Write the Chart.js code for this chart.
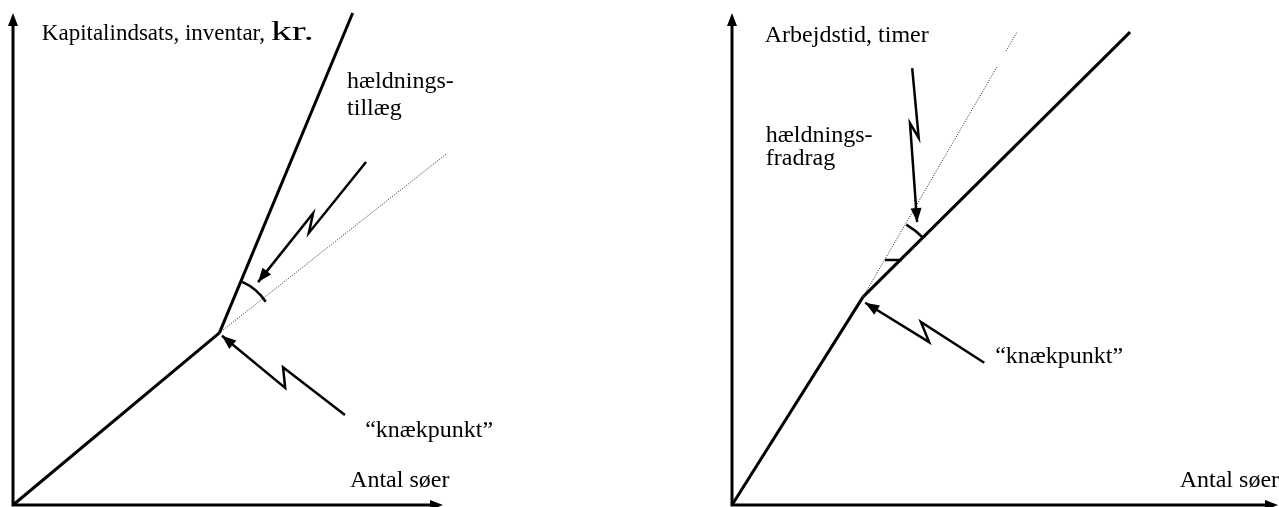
<!DOCTYPE html>
<html>
<head>
<meta charset="utf-8">
<script src="https://cdn.jsdelivr.net/npm/chart.js@4.4.1/dist/chart.umd.min.js"></script>
<style>
  html, body { margin: 0; padding: 0; background: #fff; }
  #wrap { position: relative; width: 1279px; height: 507px; overflow: hidden; }
  .box { position: absolute; top: 0; height: 507px; }
</style>
</head>
<body>
<div id="wrap">
  <div class="box" style="left:0;width:640px"><canvas id="kapital"></canvas></div>
  <div class="box" style="left:640px;width:639px"><canvas id="arbejde"></canvas></div>
</div>
<script>
const SERIF = '"Liberation Serif", "DejaVu Serif", "Times New Roman", serif';

// venstre figur: kapitalindsats (begge akser 0-100, skematisk)
const kapBasis = [{ x: 0, y: 0 }, { x: 48, y: 35 }];
const kapStejl = [{ x: 48, y: 35 }, { x: 79, y: 100 }];
const kapForlaengelse = [{ x: 48, y: 35 }, { x: 101, y: 71.5 }];
const kapPilVinkel = [{ x: 82.1, y: 69.7 }, { x: 68.8, y: 55.3 }, { x: 69.8, y: 59.3 }, { x: 57.0, y: 45.3 }];
const kapPilKnaek = [{ x: 77.2, y: 18.3 }, { x: 62.8, y: 28.0 }, { x: 63.3, y: 23.8 }, { x: 48.6, y: 34.4 }];
const kapBue = [{ x: 53.5, y: 45.7 }, { x: 58.4, y: 41.1 }];
const kapTekster = [
  { parts: [['Kapitalindsats, inventar, ', 23, 1], ['kr.', 28, 1.5]], x: 6.7, y: 94.5 },
  { parts: [['hældnings-', 24, 1]], x: 77.7, y: 84.8 },
  { parts: [['tillæg', 24, 1]], x: 77.7, y: 79.3 },
  { parts: [['\u201cknækpunkt\u201d', 24, 1]], x: 81.9, y: 13.8 },
  { parts: [['Antal søer', 24, 1]], x: 78.4, y: 3.7 },
];

// højre figur: arbejdstid
const arbBasis = [{ x: 0, y: 0 }, { x: 24, y: 42.3 }];
const arbFlad = [{ x: 24, y: 42.3 }, { x: 72.9, y: 96.1 }];
const arbForlaengelse1 = [{ x: 24, y: 42.3 }, { x: 48.5, y: 89.0 }];
const arbForlaengelse2 = [{ x: 50.2, y: 92.3 }, { x: 52.2, y: 96.1 }];
const arbStreg = [{ x: 28.0, y: 49.8 }, { x: 31.1, y: 49.8 }];
const arbPilVinkel = [{ x: 33.0, y: 88.8 }, { x: 34.2, y: 74.6 }, { x: 32.6, y: 77.6 }, { x: 33.9, y: 57.5 }];
const arbPilKnaek = [{ x: 46.2, y: 28.9 }, { x: 34.6, y: 37.2 }, { x: 36.1, y: 33.1 }, { x: 24.4, y: 41.1 }];
const arbBue = [{ x: 32.2, y: 57.5 }, { x: 34.6, y: 53.9 }];
const arbTekster = [
  { parts: [['Arbejdstid, timer', 24, 1]], x: 6.0, y: 94.1 },
  { parts: [['hældnings-', 24, 1]], x: 6.2, y: 73.8 },
  { parts: [['fradrag', 24, 1]], x: 6.2, y: 69.2 },
  { parts: [['\u201cknækpunkt\u201d', 24, 1]], x: 48.2, y: 28.9 },
  { parts: [['Antal søer', 24, 1]], x: 82.0, y: 3.7 },
];

function head(ctx, fx, fy, tx, ty, len, half) {
  const a = Math.atan2(ty - fy, tx - fx);
  ctx.beginPath();
  ctx.moveTo(tx, ty);
  ctx.lineTo(tx - len * Math.cos(a) + half * Math.sin(a), ty - len * Math.sin(a) - half * Math.cos(a));
  ctx.lineTo(tx - len * Math.cos(a) - half * Math.sin(a), ty - len * Math.sin(a) + half * Math.cos(a));
  ctx.closePath();
  ctx.fill();
}

const diagram = {
  id: 'diagram',
  beforeDatasetsDraw(chart) {
    const { ctx, scales: { x, y } } = chart;
    const x0 = x.getPixelForValue(0), y0 = y.getPixelForValue(0);
    const x1 = x.getPixelForValue(x.max), y1 = y.getPixelForValue(y.max);
    ctx.save();
    ctx.strokeStyle = '#000';
    ctx.fillStyle = '#000';
    ctx.lineWidth = 3;
    ctx.beginPath();
    ctx.moveTo(x0, y0 + 1.5); ctx.lineTo(x0, y1 + 10);
    ctx.moveTo(x0 - 1.5, y0); ctx.lineTo(x1 - 10, y0);
    ctx.stroke();
    head(ctx, x0, y0, x0, y1, 13, 5);
    head(ctx, x0, y0, x1, y0, 13, 5);
    ctx.restore();
  },
  afterDatasetsDraw(chart, args, opts) {
    const { ctx, scales: { x, y } } = chart;
    ctx.save();
    ctx.fillStyle = '#000';
    ctx.strokeStyle = '#000';
    // pilespidser på lyn-pilene
    chart.data.datasets.forEach(ds => {
      if (!ds.arrow) return;
      const n = ds.data.length;
      const a = ds.data[n - 2], b = ds.data[n - 1];
      head(ctx, x.getPixelForValue(a.x), y.getPixelForValue(a.y),
        x.getPixelForValue(b.x), y.getPixelForValue(b.y), 14, 5.5);
    });
    // vinkelbue om knækpunktet
    const c = opts.knee, bue = opts.arc;
    const cx = x.getPixelForValue(c.x), cy = y.getPixelForValue(c.y);
    const pts = bue.map(p => [x.getPixelForValue(p.x) - cx, y.getPixelForValue(p.y) - cy]);
    const r = (Math.hypot(...pts[0]) + Math.hypot(...pts[1])) / 2;
    const a0 = Math.atan2(pts[0][1], pts[0][0]), a1 = Math.atan2(pts[1][1], pts[1][0]);
    ctx.lineWidth = 2.5;
    ctx.beginPath();
    ctx.arc(cx, cy, r, Math.min(a0, a1), Math.max(a0, a1));
    ctx.stroke();
    // tekster (sidste del kan strækkes vandret, som "kr." i originalen)
    ctx.textBaseline = 'alphabetic';
    opts.labels.forEach(l => {
      let px = x.getPixelForValue(l.x);
      const py = y.getPixelForValue(l.y);
      l.parts.forEach(([t, size, stretch]) => {
        ctx.font = size + 'px ' + SERIF;
        ctx.save();
        ctx.translate(px, py);
        ctx.scale(stretch, 1);
        ctx.fillText(t, 0, 0);
        ctx.restore();
        px += ctx.measureText(t).width * stretch;
      });
    });
    ctx.restore();
  }
};

function solid(data, w) {
  return { data, showLine: true, borderColor: '#000', borderWidth: w, pointRadius: 0, clip: false, borderCapStyle: 'butt' };
}
function dotted(data) {
  return { data, showLine: true, borderColor: '#222', borderWidth: 1, borderDash: [1, 1.5], pointRadius: 0, clip: false };
}
function bolt(data) {
  return { ...solid(data, 2.5), arrow: true, borderJoinStyle: 'miter' };
}

function makeChart(id, datasets, padding, knee, arc, labels) {
  return new Chart(document.getElementById(id), {
    type: 'scatter',
    data: { datasets },
    options: {
      responsive: true,
      maintainAspectRatio: false,
      animation: false,
      events: [],
      layout: { padding },
      scales: {
        x: { type: 'linear', min: 0, max: 100, display: false },
        y: { type: 'linear', min: 0, max: 100, display: false },
      },
      plugins: {
        legend: { display: false },
        tooltip: { enabled: false },
        diagram: { knee, arc, labels },
      },
    },
    plugins: [diagram],
  });
}

makeChart('kapital', [
  dotted(kapForlaengelse),
  solid(kapBasis, 3),
  solid(kapStejl, 3),
  bolt(kapPilVinkel),
  bolt(kapPilKnaek),
], { left: 13, top: 13, right: 197, bottom: 2 }, kapBasis[1], kapBue, kapTekster);

makeChart('arbejde', [
  dotted(arbForlaengelse1),
  dotted(arbForlaengelse2),
  solid(arbBasis, 3),
  solid(arbFlad, 3),
  solid(arbStreg, 2.5),
  bolt(arbPilVinkel),
  bolt(arbPilKnaek),
], { left: 92, top: 13, right: 1, bottom: 2 }, arbBasis[1], arbBue, arbTekster);
</script>
</body>
</html>
